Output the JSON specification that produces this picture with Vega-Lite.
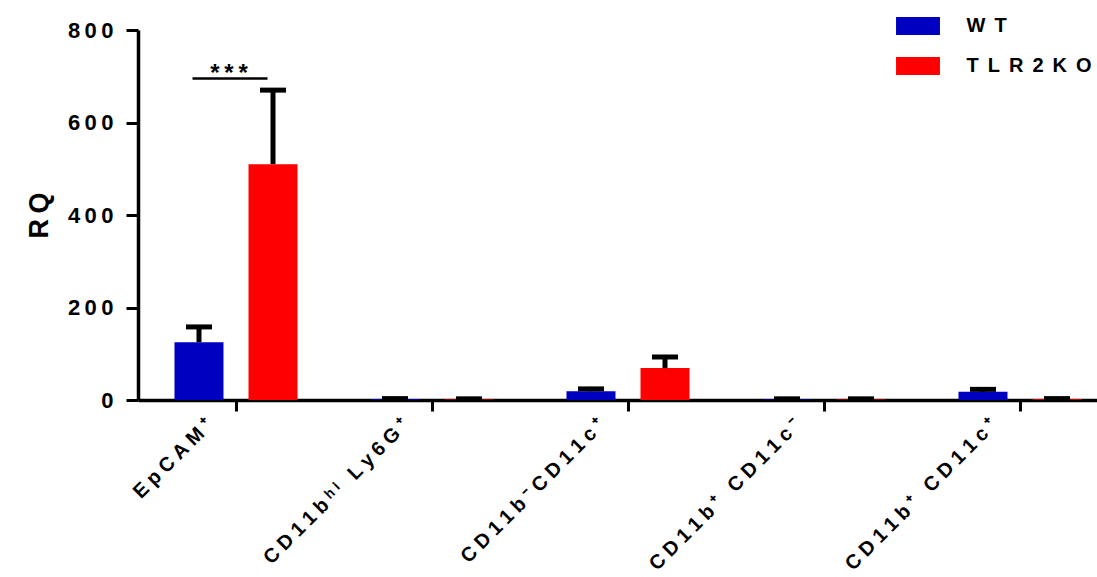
{
  "$schema": "https://vega.github.io/schema/vega-lite/v6.json",
  "autosize": "none",
  "width": 959,
  "height": 370,
  "padding": {"left": 138, "top": 30, "right": 0, "bottom": 177},
  "background": "white",
  "config": {
    "font": "Liberation Sans",
    "view": {"stroke": null},
    "axis": {"grid": false, "domainColor": "black", "tickColor": "black", "labelColor": "black", "titleColor": "black", "labelFontWeight": "bold", "titleFontWeight": "bold"}
  },
  "datasets": {
    "bars": [
      {"cell": "EpCAM⁺", "group": "WT", "rq": 125, "err": 158},
      {"cell": "EpCAM⁺", "group": "TLR2KO", "rq": 510, "err": 670},
      {"cell": "CD11bʰⁱ Ly6G⁺", "group": "WT", "rq": 1.5, "err": 3},
      {"cell": "CD11bʰⁱ Ly6G⁺", "group": "TLR2KO", "rq": 1, "err": 2.5},
      {"cell": "CD11b⁻CD11c⁺", "group": "WT", "rq": 19, "err": 24},
      {"cell": "CD11b⁻CD11c⁺", "group": "TLR2KO", "rq": 69, "err": 93},
      {"cell": "CD11b⁺ CD11c⁻", "group": "WT", "rq": 1, "err": 2.5},
      {"cell": "CD11b⁺ CD11c⁻", "group": "TLR2KO", "rq": 1, "err": 2.5},
      {"cell": "CD11b⁺ CD11c⁺", "group": "WT", "rq": 18, "err": 23},
      {"cell": "CD11b⁺ CD11c⁺", "group": "TLR2KO", "rq": 1.5, "err": 3}
    ],
    "sig": [{"cell": "EpCAM⁺", "y": 695, "label": "*\u2009*\u2009*"}]
  },
  "encoding": {
    "x": {
      "field": "cell",
      "type": "nominal",
      "scale": {"domain": ["EpCAM⁺", "CD11bʰⁱ Ly6G⁺", "CD11b⁻CD11c⁺", "CD11b⁺ CD11c⁻", "CD11b⁺ CD11c⁺"], "range": [0, 980], "paddingInner": 0, "paddingOuter": 0},
      "axis": {
        "title": null,
        "labelAngle": -45,
        "labelAlign": "right",
        "labelBaseline": "alphabetic",
        "labelFontSize": 20,
        "labelPadding": 15,
        "labelOffset": -22,
        "labelLimit": 0,
        "labelExpr": "join(split(datum.label, ''), '\u2005')",
        "domainWidth": 3.5,
        "tickWidth": 3,
        "tickSize": 11
      }
    }
  },
  "layer": [
    {
      "data": {"name": "bars"},
      "mark": {"type": "bar"},
      "encoding": {
        "xOffset": {"field": "group", "type": "nominal", "scale": {"domain": ["WT", "TLR2KO"], "paddingInner": 0.338, "paddingOuter": 0.493}},
        "y": {
          "field": "rq",
          "type": "quantitative",
          "scale": {"domain": [0, 800], "nice": false},
          "axis": {
            "title": "R\u2009Q",
            "titleFontSize": 27,
            "titlePadding": 14,
            "values": [0, 200, 400, 600, 800],
            "labelFontSize": 22,
            "labelPadding": 13,
            "labelExpr": "join(split(datum.label, ''), '\u2009')",
            "domainWidth": 3.5,
            "tickWidth": 3,
            "tickSize": 12
          }
        },
        "color": {
          "field": "group",
          "type": "nominal",
          "scale": {"domain": ["WT", "TLR2KO"], "range": ["#0000C0", "#FF0000"]},
          "legend": {
            "title": null,
            "orient": "none",
            "legendX": 770,
            "legendY": -14,
            "padding": 0,
            "symbolType": "M-2.44,-1H2.44V1H-2.44Z",
            "symbolSize": 324,
            "symbolStrokeWidth": 0,
            "labelOffset": 38.5,
            "labelFontSize": 20,
            "labelFontWeight": "bold",
            "labelColor": "black",
            "labelLimit": 0,
            "rowPadding": 20,
            "labelExpr": "join(split(datum.label, ''), '\u2005\u2009')"
          }
        }
      }
    },
    {
      "data": {"name": "bars"},
      "mark": {"type": "rule", "strokeWidth": 5, "color": "black"},
      "encoding": {
        "xOffset": {"field": "group", "type": "nominal", "scale": {"domain": ["WT", "TLR2KO"], "paddingInner": 0.338, "paddingOuter": 0.493}},
        "y": {"field": "rq", "type": "quantitative"},
        "y2": {"field": "err"}
      }
    },
    {
      "data": {"name": "bars"},
      "mark": {"type": "tick", "thickness": 5, "size": 26, "color": "black", "opacity": 1},
      "encoding": {
        "xOffset": {"field": "group", "type": "nominal", "scale": {"domain": ["WT", "TLR2KO"], "paddingInner": 0.338, "paddingOuter": 0.493}},
        "y": {"field": "err", "type": "quantitative"}
      }
    },
    {
      "data": {"name": "sig"},
      "mark": {"type": "tick", "thickness": 2.5, "size": 75, "color": "black", "opacity": 1, "xOffset": -6},
      "encoding": {
        "y": {"field": "y", "type": "quantitative"}
      }
    },
    {
      "data": {"name": "sig"},
      "mark": {"type": "text", "fontSize": 24, "fontWeight": "bold", "baseline": "bottom", "dy": 7, "dx": -7, "color": "black"},
      "encoding": {
        "y": {"field": "y", "type": "quantitative"},
        "text": {"field": "label"}
      }
    }
  ]
}
